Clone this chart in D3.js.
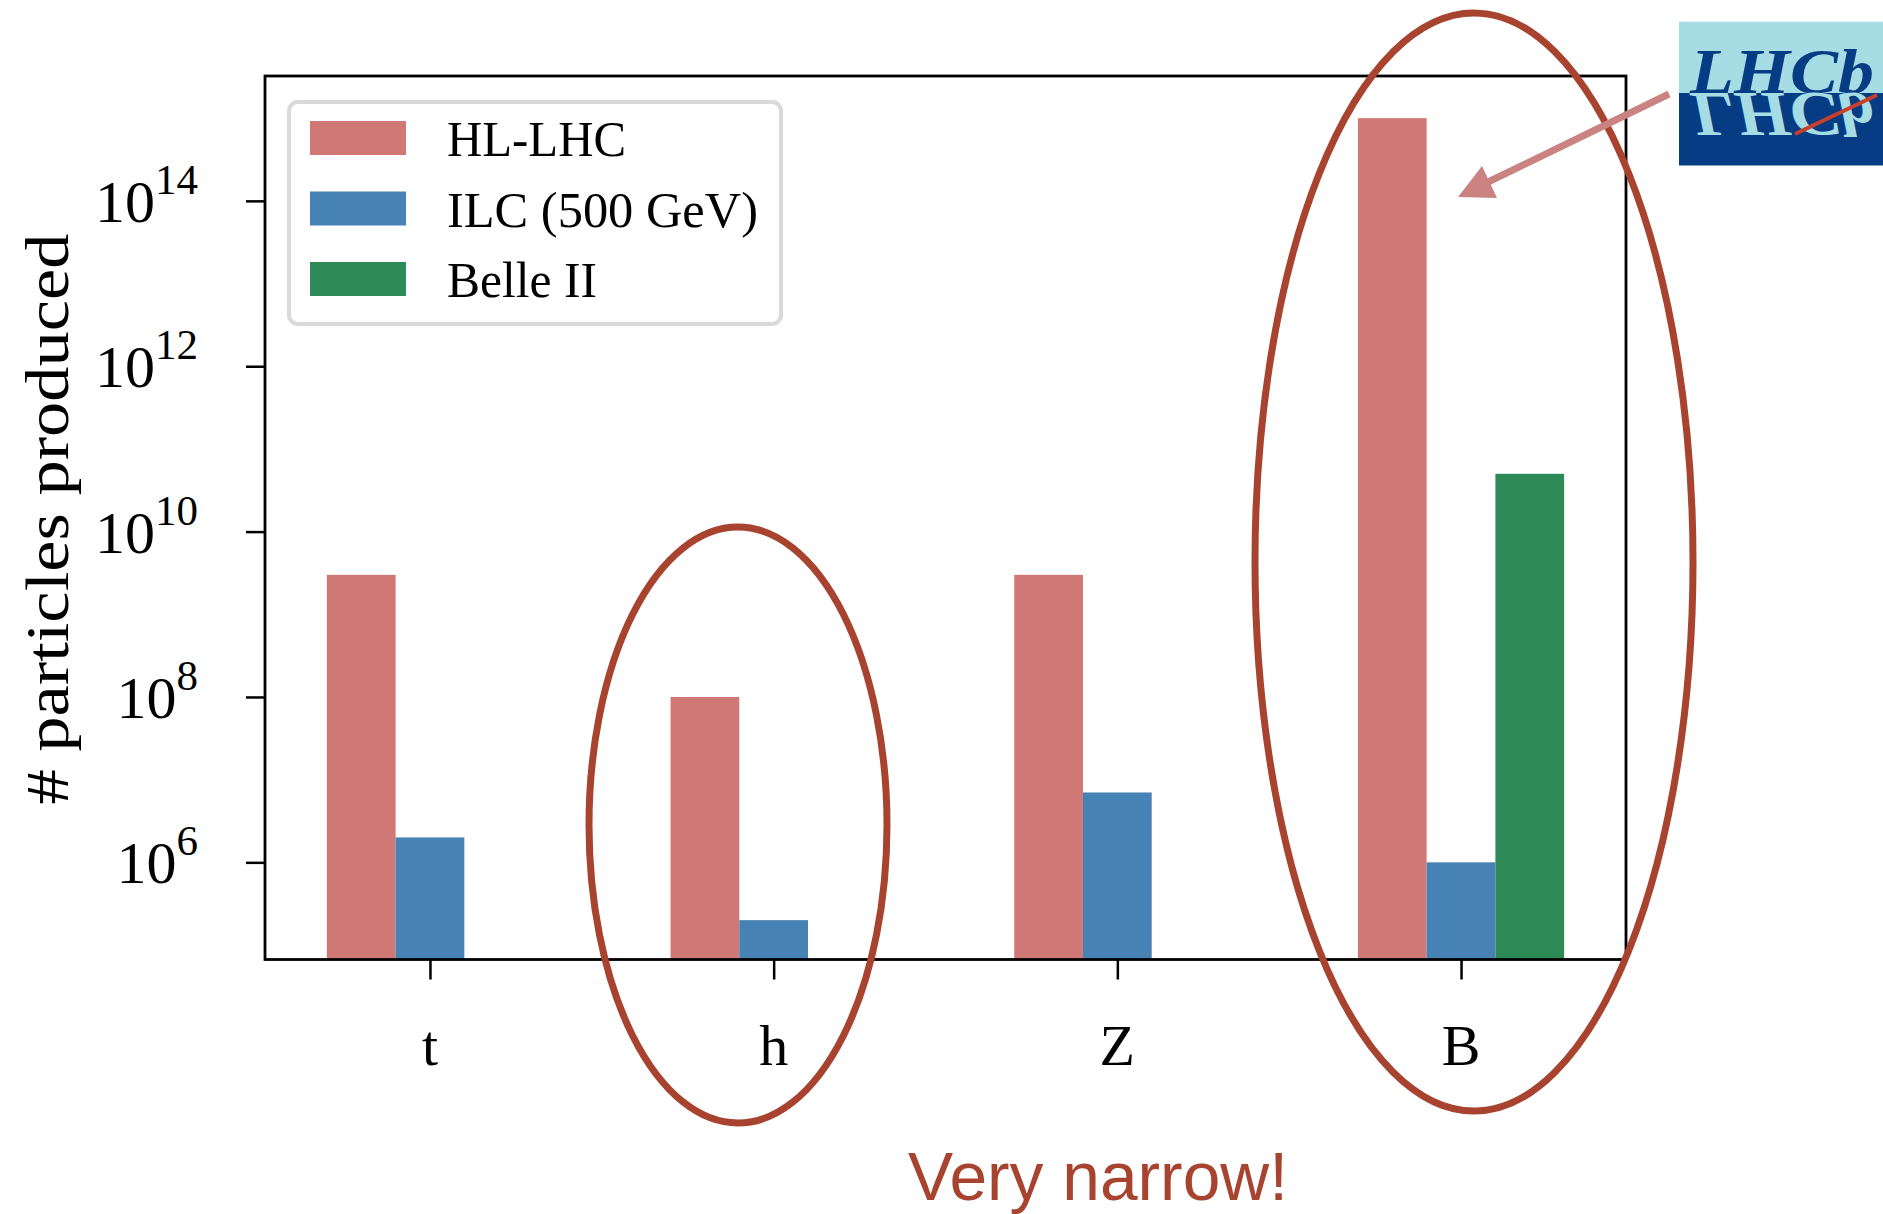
<!DOCTYPE html>
<html>
<head>
<meta charset="utf-8">
<script src="https://cdn.jsdelivr.net/npm/d3@7/dist/d3.min.js"></script>
<style>
  body { margin: 0; background: #fff; }
  svg { display: block; }
</style>
</head>
<body>
<div id="chart"></div>
<script>
// data
const categories = ["t", "h", "Z", "B"];
const seriesNames = ["HL-LHC", "ILC (500 GeV)", "Belle II"];
const hlLhc = [3e9, 1e8, 3e9, 1e15];
const ilc = [2e6, 2e5, 7e6, 1e6];
const belle2 = [null, null, null, 5e10];
const yTickExps = [6, 8, 10, 12, 14];

const colors = ["#d07876", "#4682b4", "#2e8b57"];
const series = [hlLhc, ilc, belle2];

const W = 1883, H = 1214;
const plot = { left: 265, right: 1626, top: 76, bottom: 959.5 };
const serif = "'Liberation Serif', 'DejaVu Serif', serif";

const svg = d3.select("#chart").append("svg")
  .attr("width", W).attr("height", H);

const x = d3.scaleLinear().domain([-0.48, 3.48]).range([plot.left, plot.right]);
const y = d3.scaleLog().domain([Math.pow(10, 4.825), Math.pow(10, 15.51)])
  .range([plot.bottom, plot.top]);
const barW = 0.2;

// bars
const gBars = svg.append("g");
series.forEach(function (vals, s) {
  gBars.selectAll(".bar" + s)
    .data(vals.map((v, i) => ({ v: v, i: i })).filter(d => d.v != null))
    .enter().append("rect")
    .attr("x", d => x(d.i + (s - 1) * barW - barW / 2))
    .attr("width", x(barW) - x(0))
    .attr("y", d => y(d.v))
    .attr("height", d => plot.bottom - y(d.v))
    .attr("fill", colors[s]);
});

// frame
svg.append("rect")
  .attr("x", plot.left).attr("y", plot.top)
  .attr("width", plot.right - plot.left).attr("height", plot.bottom - plot.top)
  .attr("fill", "none").attr("stroke", "#000").attr("stroke-width", 2.8);

// y axis ticks
const yAxis = d3.axisLeft(y)
  .tickValues(yTickExps.map(e => Math.pow(10, e)))
  .tickFormat("")
  .tickSize(19);
const gy = svg.append("g").attr("transform", "translate(" + plot.left + ",0)").call(yAxis);
gy.select(".domain").remove();
gy.selectAll("line").attr("stroke-width", 2.5);

yTickExps.forEach(function (e) {
  const t = svg.append("text")
    .attr("x", 198).attr("y", y(Math.pow(10, e)) + 21)
    .attr("text-anchor", "end")
    .attr("font-family", serif).attr("font-size", 60);
  t.append("tspan").text("10");
  t.append("tspan").attr("dy", -28).attr("font-size", 43).text(e);
});

// x axis ticks
const xAxis = d3.axisBottom(x)
  .tickValues(categories.map((c, i) => i))
  .tickFormat("")
  .tickSize(20);
const gx = svg.append("g").attr("transform", "translate(0," + plot.bottom + ")").call(xAxis);
gx.select(".domain").remove();
gx.selectAll("line").attr("stroke-width", 2.5);

svg.selectAll(".xlab").data(categories).enter().append("text")
  .attr("x", (d, i) => x(i)).attr("y", 1065)
  .attr("text-anchor", "middle")
  .attr("font-family", serif).attr("font-size", 58)
  .text(d => d);

// y label
svg.append("text")
  .attr("transform", "translate(68,519) rotate(-90)")
  .attr("text-anchor", "middle")
  .attr("font-family", serif).attr("font-size", 62)
  .attr("textLength", 571).attr("lengthAdjust", "spacingAndGlyphs")
  .text("# particles produced");

// legend
const lg = svg.append("g");
lg.append("rect")
  .attr("x", 289).attr("y", 102).attr("width", 492).attr("height", 222)
  .attr("rx", 9).attr("fill", "#fff").attr("stroke", "#d9d9d9").attr("stroke-width", 4);
const legendW = [179, 311, 150];
seriesNames.forEach(function (name, s) {
  const mid = 138 + s * 70.5;
  lg.append("rect")
    .attr("x", 310).attr("y", mid - 17).attr("width", 96).attr("height", 34)
    .attr("fill", colors[s]);
  lg.append("text")
    .attr("x", 447).attr("y", mid + 18)
    .attr("font-family", serif).attr("font-size", 50)
    .attr("textLength", legendW[s]).attr("lengthAdjust", "spacingAndGlyphs")
    .text(name);
});

// annotations: ellipses
const annot = "#a8432f";
svg.append("ellipse")
  .attr("cx", 738).attr("cy", 825).attr("rx", 149).attr("ry", 298)
  .attr("fill", "none").attr("stroke", annot).attr("stroke-width", 7);
svg.append("ellipse")
  .attr("cx", 1474).attr("cy", 562).attr("rx", 219).attr("ry", 549)
  .attr("fill", "none").attr("stroke", annot).attr("stroke-width", 7);

svg.append("text")
  .attr("x", 908).attr("y", 1200)
  .attr("font-family", "'Liberation Sans', Arial, sans-serif").attr("font-size", 68)
  .attr("textLength", 380).attr("lengthAdjust", "spacingAndGlyphs")
  .attr("fill", annot)
  .text("Very narrow!");

// arrow to LHCb
const arrowCol = "#cb8381";
svg.append("line")
  .attr("x1", 1669).attr("y1", 94).attr("x2", 1486).attr("y2", 183)
  .attr("stroke", arrowCol).attr("stroke-width", 7);
svg.append("path")
  .attr("d", "M1458,197 L1482,166 L1497,198 Z")
  .attr("fill", arrowCol);

// LHCb logo
const logo = svg.append("g");
logo.append("rect").attr("x", 1679).attr("y", 21.7).attr("width", 204).attr("height", 71.5)
  .attr("fill", "#a6dce4");
logo.append("rect").attr("x", 1679).attr("y", 93).attr("width", 204).attr("height", 72.5)
  .attr("fill", "#053c84");
logo.append("text")
  .attr("x", 1690).attr("y", 93)
  .attr("font-family", serif).attr("font-style", "italic").attr("font-weight", "bold")
  .attr("font-size", 64)
  .attr("textLength", 184).attr("lengthAdjust", "spacingAndGlyphs")
  .attr("fill", "#053c84")
  .text("LHCb");
logo.append("text")
  .attr("transform", "translate(0,186) scale(1,-1)")
  .attr("x", 1690).attr("y", 93)
  .attr("font-family", serif).attr("font-style", "italic").attr("font-weight", "bold")
  .attr("font-size", 64)
  .attr("textLength", 184).attr("lengthAdjust", "spacingAndGlyphs")
  .attr("fill", "#a6dce4")
  .text("LHCb");
logo.append("line")
  .attr("x1", 1795).attr("y1", 134).attr("x2", 1877).attr("y2", 95)
  .attr("stroke", "#c8402a").attr("stroke-width", 4);
</script>
</body>
</html>
